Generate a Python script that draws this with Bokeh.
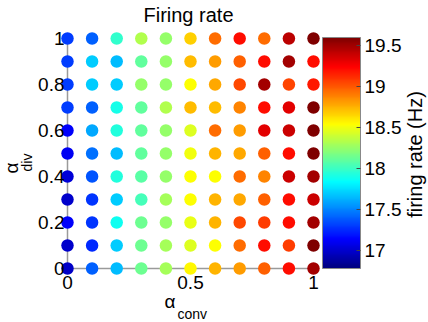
import numpy as np
from bokeh.plotting import figure
from bokeh.models import (ColumnDataSource, LinearColorMapper, ColorBar, Label,
                          FixedTicker, Range1d, Title)
from bokeh.transform import transform
from bokeh.embed import file_html
from bokeh.resources import INLINE

# ---- data ----
alpha_conv = [0.0, 0.1, 0.2, 0.3, 0.4, 0.5, 0.6, 0.7, 0.8, 0.9, 1.0]
alpha_div = [0.0, 0.1, 0.2, 0.3, 0.4, 0.5, 0.6, 0.7, 0.8, 0.9, 1.0]
# firing rate (Hz), one row per alpha_div (ascending), columns along alpha_conv
rate_div_00 = [16.98, 17.40, 17.66, 18.14, 18.30, 18.56, 18.75, 18.81, 18.98, 19.21, 19.50]
rate_div_01 = [17.00, 17.25, 17.70, 18.14, 18.30, 18.45, 18.54, 18.94, 19.21, 19.08, 19.60]
rate_div_02 = [17.13, 17.28, 17.88, 18.14, 18.25, 18.48, 18.75, 19.04, 19.08, 19.21, 19.50]
rate_div_03 = [17.00, 17.28, 17.70, 18.03, 18.30, 18.54, 18.75, 18.78, 18.98, 19.21, 19.38]
rate_div_04 = [17.03, 17.37, 17.93, 18.08, 18.25, 18.54, 18.54, 18.94, 18.88, 19.38, 19.50]
rate_div_05 = [17.10, 17.45, 17.66, 18.11, 18.25, 18.50, 18.75, 18.78, 18.98, 19.21, 19.60]
rate_div_06 = [17.13, 17.60, 17.93, 18.11, 18.25, 18.45, 18.94, 18.81, 19.32, 19.38, 19.60]
rate_div_07 = [17.30, 17.40, 17.90, 18.11, 18.33, 18.72, 18.72, 18.88, 19.21, 19.32, 19.60]
rate_div_08 = [17.30, 17.70, 17.70, 18.25, 18.25, 18.54, 18.78, 19.04, 19.50, 19.06, 19.18]
rate_div_09 = [17.30, 17.70, 17.66, 18.11, 18.25, 18.72, 18.81, 18.98, 19.21, 19.50, 19.21]
rate_div_10 = [17.30, 17.40, 17.97, 18.33, 18.25, 18.67, 18.94, 19.21, 18.94, 19.43, 19.60]
rates = [rate_div_00, rate_div_01, rate_div_02, rate_div_03, rate_div_04, rate_div_05,
         rate_div_06, rate_div_07, rate_div_08, rate_div_09, rate_div_10]
x_ticks = [0, 0.5, 1]
y_ticks = [0, 0.2, 0.4, 0.6, 0.8, 1]
cbar_ticks = [17, 17.5, 18, 18.5, 19, 19.5]
rate_low, rate_high = 16.78, 19.6

# ---- jet palette ----
def jet(t):
    r = np.clip(1.5 - abs(4 * t - 3), 0, 1)
    g = np.clip(1.5 - abs(4 * t - 2), 0, 1)
    b = np.clip(1.5 - abs(4 * t - 1), 0, 1)
    return "#%02x%02x%02x" % (int(r * 255), int(g * 255), int(b * 255))

palette = [jet(i / 255) for i in range(256)]

xs, ys, vs = [], [], []
for j, yd in enumerate(alpha_div):
    for i, xc in enumerate(alpha_conv):
        xs.append(xc)
        ys.append(yd)
        vs.append(rates[j][i])
src = ColumnDataSource(dict(x=xs, y=ys, rate=vs))

mapper = LinearColorMapper(palette=palette, low=rate_low, high=rate_high)

FONT = "Liberation Sans"

# frame spans x 58..428 and y 0..276 of the canvas (data 0..1 -> px 67..313 / 268..38)
p = figure(width=428, height=322, output_backend="svg", toolbar_location=None,
           x_range=Range1d(-9 / 246, 361 / 246), y_range=Range1d(-8 / 230, 268 / 230),
           min_border_left=58, min_border_top=0, min_border_bottom=46,
           min_border_right=0)
p.outline_line_color = None
p.grid.visible = False
p.background_fill_color = "white"
p.border_fill_color = "white"

# axis lines
p.segment(x0=[min(alpha_conv), min(alpha_conv)], y0=[min(alpha_div), min(alpha_div)],
          x1=[max(alpha_conv), min(alpha_conv)], y1=[min(alpha_div), max(alpha_div)],
          line_color="#9a9a9a", line_width=1.5)

p.scatter("x", "y", source=src, size=12.5, line_color=None,
          fill_color=transform("rate", mapper))

for ax, ticks in ((p.xaxis[0], x_ticks), (p.yaxis[0], y_ticks)):
    ax.ticker = FixedTicker(ticks=ticks)
    ax.major_label_overrides = {t: ("%g" % t) for t in ticks}
    ax.axis_line_color = None
    ax.major_tick_line_color = None
    ax.minor_tick_line_color = None
    ax.major_tick_out = 0
    ax.major_tick_in = 0
    ax.minor_tick_out = 0
    ax.minor_tick_in = 0
    ax.major_label_text_font = FONT
    ax.major_label_text_font_size = "19px"
    ax.major_label_text_color = "black"
p.xaxis[0].major_label_standoff = -1
p.yaxis[0].major_label_standoff = -6

cb = ColorBar(color_mapper=mapper, location=(264, 8), width=38, height=231,
              padding=0, margin=0, ticker=FixedTicker(ticks=cbar_ticks),
              major_label_overrides={t: ("%g" % t) for t in cbar_ticks},
              major_label_text_font=FONT, major_label_text_font_size="19px",
              major_label_text_color="black", label_standoff=4,
              major_tick_line_color="#444444", major_tick_in=4, major_tick_out=0,
              bar_line_color="#888888", background_fill_alpha=0,
              border_line_color=None)
p.add_layout(cb)

# texts inside the frame
p.add_layout(Label(x=(188 - 67) / 246, y=(268 - 14) / 230, text="Firing rate",
                   text_font=FONT, text_font_size="20px", text_align="center",
                   text_baseline="middle", text_color="black"))
p.add_layout(Label(x=(414 - 67) / 246, y=(268 - 154) / 230, text="firing rate (Hz)",
                   text_font=FONT, text_font_size="20px", text_align="center",
                   text_baseline="middle", angle=np.pi / 2, text_color="black"))

# axis labels (alpha with subscript) as side titles
def side_title(text, side, offset, size, standoff):
    p.add_layout(Title(text=text, align="left", offset=offset, standoff=standoff,
                       text_font=FONT, text_font_size=size, text_font_style="normal",
                       text_color="black"), side)

side_title("\u03b1", "below", 106, "19px", -6)
side_title("conv", "below", 119, "14px", -10)
side_title("div", "left", 105, "14px", 0.5)
side_title("\u03b1", "left", 103, "19px", -11)

open("out.html", "w").write(file_html(p, INLINE))
